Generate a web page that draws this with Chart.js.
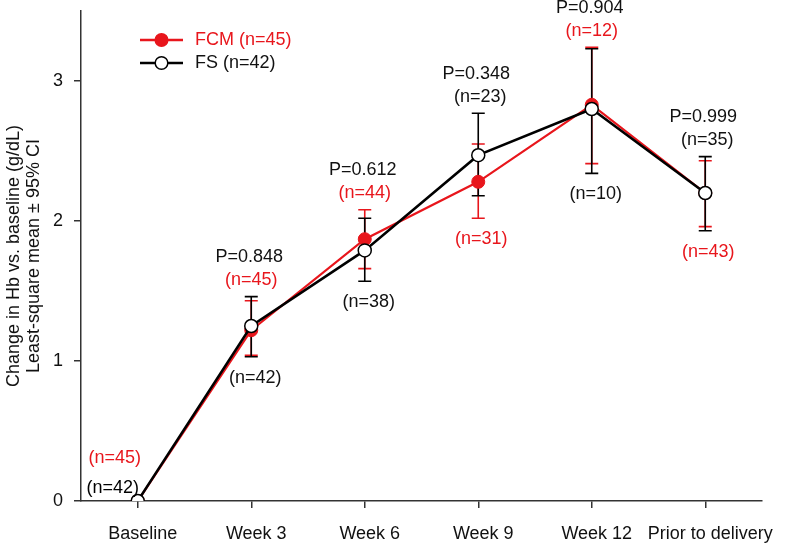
<!DOCTYPE html>
<html>
<head>
<meta charset="utf-8">
<script src="https://cdn.jsdelivr.net/npm/chart.js@4.4.1/dist/chart.umd.min.js"></script>
<style>
  html, body { margin: 0; padding: 0; background: #fff; }
  #wrap { width: 787px; height: 545px; }
</style>
</head>
<body>
<div id="wrap"><canvas id="c" width="787" height="545"></canvas></div>
<script>
// ---- data ----
const categories = ['Baseline', 'Week 3', 'Week 6', 'Week 9', 'Week 12', 'Prior to delivery'];
const fcmMean = [0, 1.22, 1.87, 2.28, 2.83, 2.20];
const fcmLow  = [null, 1.04, 1.66, 2.02, 2.41, 1.96];
const fcmHigh = [null, 1.43, 2.08, 2.55, 3.24, 2.43];
const fsMean  = [0, 1.25, 1.79, 2.47, 2.80, 2.20];
const fsLow   = [null, 1.03, 1.57, 2.18, 2.34, 1.93];
const fsHigh  = [null, 1.46, 2.02, 2.77, 3.23, 2.46];
const pLabels = ['', 'P=0.848', 'P=0.612', 'P=0.348', 'P=0.904', 'P=0.999'];
const fcmN = [45, 45, 44, 31, 12, 43];
const fsN  = [42, 42, 38, 23, 10, 35];
const topGroup = ['', 'FCM', 'FCM', 'FS', 'FCM', 'FS'];
const yTicks = [0, 1, 2, 3];
const legendLabels = ['FCM (n=45)', 'FS (n=42)'];

const RED = 'rgb(232,22,28)';
const BLACK = '#000';
const AXIS = '#333';
const FONT = '"Liberation Sans", Arial, Helvetica, sans-serif';

const annot = {
  id: 'annot',
  beforeDatasetsDraw(chart) {
    const ctx = chart.ctx;
    const x = chart.scales.x, y = chart.scales.y;
    const bars = [
      { low: fcmLow, high: fcmHigh, color: RED },
      { low: fsLow, high: fsHigh, color: BLACK }
    ];
    ctx.save();
    ctx.lineWidth = 1.6;
    bars.forEach(b => {
      ctx.strokeStyle = b.color;
      categories.forEach((c, i) => {
        if (b.low[i] == null) return;
        const px = x.getPixelForValue(i);
        const y1 = y.getPixelForValue(b.low[i]);
        const y2 = y.getPixelForValue(b.high[i]);
        ctx.beginPath();
        ctx.moveTo(px, y1); ctx.lineTo(px, y2);
        ctx.moveTo(px - 6.5, y1); ctx.lineTo(px + 6.5, y1);
        ctx.moveTo(px - 6.5, y2); ctx.lineTo(px + 6.5, y2);
        ctx.stroke();
      });
    });
    ctx.restore();
  },
  afterDraw(chart) {
    const ctx = chart.ctx;
    const x = chart.scales.x, y = chart.scales.y;
    ctx.save();
    ctx.font = '18px ' + FONT;
    ctx.textAlign = 'center';
    ctx.textBaseline = 'middle';
    categories.forEach((c, i) => {
      const px = x.getPixelForValue(i);
      if (fcmLow[i] == null) {
        const y0 = y.getPixelForValue(fcmMean[i]);
        ctx.fillStyle = RED;
        ctx.fillText('(n=' + fcmN[i] + ')', px - 23, y0 - 43);
        ctx.fillStyle = BLACK;
        ctx.fillText('(n=' + fsN[i] + ')', px - 25, y0 - 13);
        return;
      }
      const topPx = y.getPixelForValue(Math.max(fcmHigh[i], fsHigh[i]));
      const botPx = y.getPixelForValue(Math.min(fcmLow[i], fsLow[i]));
      const fcmTxt = '(n=' + fcmN[i] + ')';
      const fsTxt = '(n=' + fsN[i] + ')';
      ctx.fillStyle = '#111';
      ctx.fillText(pLabels[i], px - 2, topPx - 39.5);
      if (topGroup[i] === 'FCM') {
        ctx.fillStyle = RED; ctx.fillText(fcmTxt, px, topPx - 16.5);
        ctx.fillStyle = '#111'; ctx.fillText(fsTxt, px + 4, botPx + 21);
      } else {
        ctx.fillStyle = '#111'; ctx.fillText(fsTxt, px + 2, topPx - 16.5);
        ctx.fillStyle = RED; ctx.fillText(fcmTxt, px + 3, botPx + 21);
      }
    });
    // legend
    const items = [
      { label: legendLabels[0], color: RED, fill: RED, lw: 2.5 },
      { label: legendLabels[1], color: BLACK, fill: '#fff', lw: 2.5 }
    ];
    items.forEach((it, k) => {
      const ly = 40 + k * 23;
      ctx.strokeStyle = it.color;
      ctx.lineWidth = it.lw;
      ctx.beginPath(); ctx.moveTo(140, ly); ctx.lineTo(183, ly); ctx.stroke();
      ctx.beginPath(); ctx.arc(161.5, ly, 6.3, 0, Math.PI * 2);
      ctx.fillStyle = it.fill; ctx.fill();
      ctx.lineWidth = 1.5; ctx.stroke();
      ctx.fillStyle = k === 0 ? RED : '#111';
      ctx.textAlign = 'left';
      ctx.fillText(it.label, 195, ly);
    });
    ctx.restore();
  }
};

new Chart(document.getElementById('c'), {
  type: 'line',
  data: {
    labels: categories,
    datasets: [
      {
        label: 'FCM (n=45)', data: fcmMean, order: 2,
        borderColor: RED, borderWidth: 2.2, backgroundColor: RED,
        pointRadius: 6.5, pointBackgroundColor: RED, pointBorderColor: RED, pointBorderWidth: 1,
        tension: 0
      },
      {
        label: 'FS (n=42)', data: fsMean, order: 1,
        borderColor: BLACK, borderWidth: 2.5, backgroundColor: '#fff',
        pointRadius: 6.5, pointBackgroundColor: '#fff', pointBorderColor: BLACK, pointBorderWidth: 1.5,
        tension: 0
      }
    ]
  },
  options: {
    responsive: false,
    animation: false,
    events: [],
    layout: { padding: { top: 11, right: 25, bottom: 0, left: 0 } },
    plugins: { legend: { display: false }, tooltip: { enabled: false } },
    scales: {
      x: {
        type: 'category',
        offset: true,
        grid: { display: true, drawOnChartArea: false, drawTicks: true, tickLength: 7, color: AXIS, lineWidth: 1.5 },
        border: { display: true, color: AXIS, width: 1.5 },
        ticks: { color: '#111', font: { family: FONT, size: 18 }, padding: 15, labelOffset: 5, maxRotation: 0, autoSkip: false },
        afterFit(s) { s.height = 44; s.paddingLeft = 0; s.paddingRight = 0; }
      },
      y: {
        min: 0, max: 3.5,
        afterBuildTicks(s) { s.ticks = yTicks.map(v => ({ value: v })); },
        grid: { display: true, drawOnChartArea: false, drawTicks: true, tickLength: 7, color: AXIS, lineWidth: 1.5 },
        border: { display: true, color: AXIS, width: 1.5 },
        ticks: { color: '#111', font: { family: FONT, size: 18 }, padding: 11 },
        title: {
          display: true,
          text: ['Change in Hb vs. baseline (g/dL)', 'Least-square mean \u00b1 95% CI'],
          color: '#111',
          font: { family: FONT, size: 18, lineHeight: 1.1 },
          padding: { top: 4, bottom: 0 }
        },
        afterFit(s) { s.width = 81; s.paddingTop = 0; s.paddingBottom = 0; }
      }
    }
  },
  plugins: [annot]
});
</script>
</body>
</html>
